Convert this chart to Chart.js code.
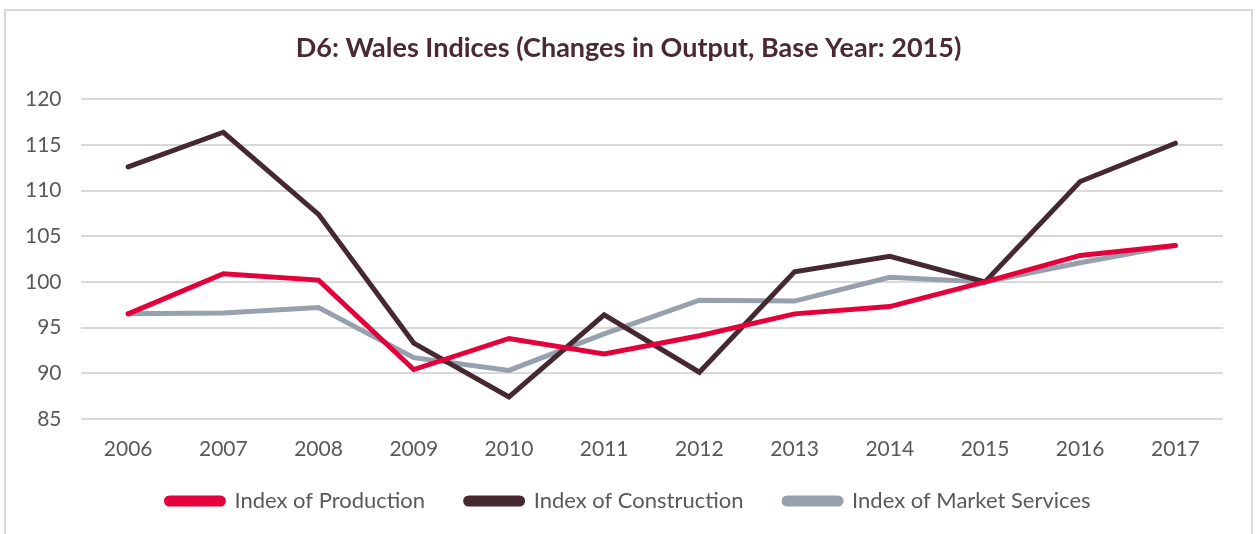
<!DOCTYPE html>
<html>
<head>
<meta charset="utf-8">
<script src="https://cdn.jsdelivr.net/npm/chart.js@4"></script>
<style>
  body { margin: 0; background: #fff; overflow: hidden; }
  #frame {
    position: absolute; left: 4px; top: 9px;
    width: 1245px; height: 540px;
    border: 2px solid #d9d9d9;
  }
</style>
</head>
<body>
<div id="frame"><canvas id="wales-chart"></canvas></div>
<script>
// Data
const years = ["2006", "2007", "2008", "2009", "2010", "2011", "2012", "2013", "2014", "2015", "2016", "2017"];
const production = [96.5, 100.9, 100.2, 90.4, 93.8, 92.1, 94.1, 96.5, 97.3, 100, 102.9, 104.0];
const construction = [112.6, 116.4, 107.4, 93.3, 87.4, 96.4, 90.1, 101.1, 102.8, 100, 111.0, 115.2];
const marketServices = [96.5, 96.6, 97.2, 91.7, 90.3, 94.3, 98.0, 97.9, 100.5, 100, 102.1, 104.0];
const yTicks = [85, 90, 95, 100, 105, 110, 115, 120];

const font = "Lato, 'Open Sans', sans-serif";

function makeLine(label, data, color) {
  return {
    label: label,
    data: data,
    borderColor: color,
    backgroundColor: color,
    borderWidth: 5,
    pointRadius: 0,
    tension: 0,
    borderCapStyle: "round",
    fill: false,
  };
}

const ctx = document.getElementById("wales-chart").getContext("2d");

new Chart(ctx, {
  type: "line",
  data: {
    labels: years,
    datasets: [
      makeLine("Index of Production", production, "#e4003b"),
      makeLine("Index of Construction", construction, "#452830"),
      makeLine("Index of Market Services", marketServices, "#97a0ad"),
    ],
  },
  options: {
    responsive: true,
    maintainAspectRatio: false,
    animation: false,
    layout: { padding: { left: 0, right: 0, top: 21, bottom: 29 } },
    scales: {
      x: {
        offset: true,
        grid: { display: false },
        border: { display: false },
        ticks: { color: "#595959", font: { family: font, size: 21 }, padding: 10 },
      },
      y: {
        min: yTicks[0],
        max: yTicks[yTicks.length - 1],
        afterBuildTicks: (axis) => { axis.ticks = yTicks.map((v) => ({ value: v })); },
        grid: { color: "#d9d9d9", lineWidth: 2, drawTicks: false },
        border: { display: false },
        ticks: { color: "#595959", font: { family: font, size: 21 }, padding: 19 },
      },
      // empty right margin so title and legend stay centred on the frame
      spacer: {
        type: "linear",
        position: "right",
        grid: { display: false },
        border: { display: false },
        ticks: { display: false },
        afterFit: (scale) => { scale.width = 28; },
      },
    },
    plugins: {
      title: {
        display: true,
        text: "D6: Wales Indices (Changes in Output, Base Year: 2015)",
        color: "#4a2932",
        font: { family: font, size: 27, weight: "bold" },
        padding: { top: 0, bottom: 35 },
      },
      legend: {
        position: "bottom",
        labels: {
          color: "#595959",
          font: { family: font, size: 22 },
          boxWidth: 57,
          boxHeight: 6,
          useBorderRadius: true,
          borderRadius: 3,
          padding: 18,
          generateLabels: (chart) => {
            const items = Chart.defaults.plugins.legend.labels.generateLabels(chart);
            items.forEach((item, i) => {
              if (i < items.length - 1) item.text += "    ";
            });
            return items;
          },
        },
      },
      tooltip: { enabled: false },
    },
  },
});
</script>
</body>
</html>
